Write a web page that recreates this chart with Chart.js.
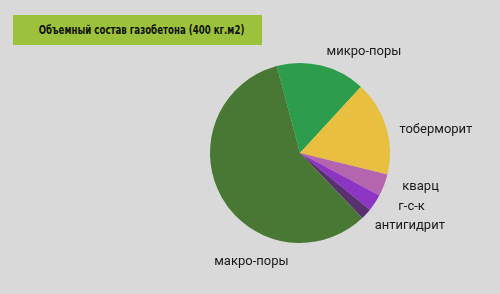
<!DOCTYPE html>
<html>
<head>
<meta charset="utf-8">
<script src="https://cdn.jsdelivr.net/npm/chart.js@4/dist/chart.umd.min.js"></script>
<style>
    html, body { margin: 0; padding: 0; background: #d9d9d9; }
    #wrap { position: relative; width: 500px; height: 294px; }
    #title {
        position: absolute; left: 13px; top: 15px; width: 249px; height: 30px;
        background: #9cc23b; color: #111;
        font-family: "DejaVu Sans", sans-serif; font-weight: bold; font-size: 12px;
        font-stretch: condensed; white-space: nowrap;
        line-height: 30px; text-align: center;
    }
    #title span { display: inline-block; transform: scaleX(0.8); }
    canvas { position: absolute; left: 0; top: 0; }
</style>
</head>
<body>
<div id="wrap">
    <canvas id="chart" width="500" height="294"></canvas>
    <div id="title"><span>Объемный состав газобетона (400 кг.м2)</span></div>
</div>
<script>
const labels = ['микро-поры', 'тоберморит', 'кварц', 'г-с-к', 'антигидрит', 'макро-поры'];
const values = [16, 17, 4, 3, 2, 58];
const colors = ['#2b9d4d', '#e8bf3e', '#b565ad', '#8c35c4', '#5a3170', '#487833'];

// label centres, in units of the pie radius, from the pie centre
const labelPlace = [[0.71, -1.12], [1.51, -0.26], [1.34, 0.38], [1.24, 0.6], [1.22, 0.81], [-0.54, 1.21]];

const sliceLabels = {
    id: 'sliceLabels',
    afterDraw(chart) {
        const ctx = chart.ctx;
        const arcs = chart.getDatasetMeta(0).data;
        ctx.save();
        ctx.fillStyle = '#1a1a1a';
        ctx.font = '13px Roboto, "Open Sans", sans-serif';
        ctx.textAlign = 'center';
        ctx.textBaseline = 'middle';
        arcs.forEach((arc, i) => {
            const r = arc.outerRadius;
            const p = labelPlace[i];
            ctx.fillText(labels[i], arc.x + p[0] * r, arc.y + p[1] * r);
        });
        ctx.restore();
    }
};

new Chart(document.getElementById('chart').getContext('2d'), {
    type: 'pie',
    data: {
        labels: labels,
        datasets: [{
            data: values,
            backgroundColor: colors,
            borderWidth: 0
        }]
    },
    options: {
        responsive: false,
        animation: false,
        rotation: -15,
        layout: {
            padding: { left: 210, right: 110, top: 63, bottom: 51 }
        },
        plugins: {
            legend: { display: false },
            tooltip: { enabled: false }
        }
    },
    plugins: [sliceLabels]
});
</script>
</body>
</html>
